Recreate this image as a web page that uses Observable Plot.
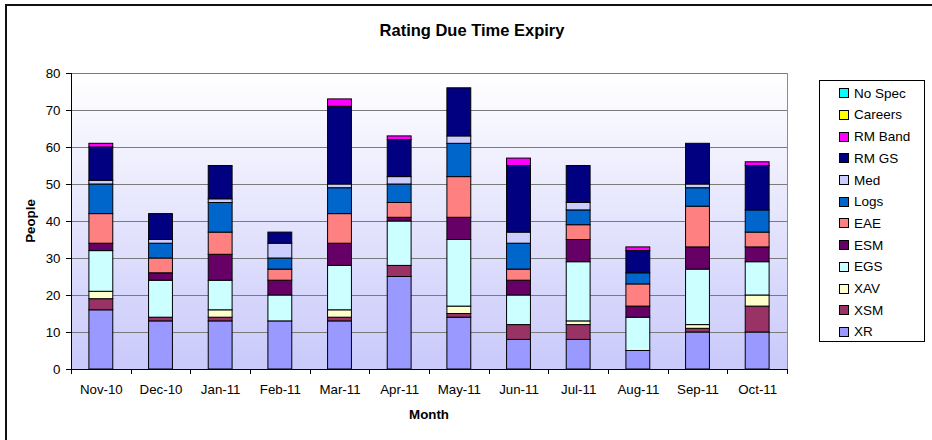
<!DOCTYPE html>
<html><head><meta charset="utf-8">
<script src="https://cdn.jsdelivr.net/npm/d3@7"></script>
<script src="https://cdn.jsdelivr.net/npm/@observablehq/plot@0.6"></script>
<style>
html,body{margin:0;padding:0;background:#fff;}
#wrap{position:relative;width:932px;height:440px;overflow:hidden;font-family:"Liberation Sans",Arial,sans-serif;color:#000;}
#frame{position:absolute;left:5px;top:4px;width:1000px;height:1000px;border:2px solid #111;box-sizing:border-box;pointer-events:none;}
#title{position:absolute;left:472px;top:22px;transform:translateX(-50%);font-weight:bold;font-size:16.5px;line-height:16.5px;white-space:nowrap;}
#ylab{position:absolute;left:31px;top:221px;transform:translate(-50%,-50%) rotate(-90deg);font-weight:bold;font-size:13.3px;line-height:13.3px;white-space:nowrap;}
#xlab{position:absolute;left:429px;top:415px;transform:translate(-50%,-50%);font-weight:bold;font-size:13.3px;line-height:13.3px;white-space:nowrap;}
#legend{position:absolute;left:819px;top:80px;width:106px;height:262px;border:1px solid #000;box-sizing:border-box;background:#fff;}
.item{position:absolute;left:0;height:21.7px;display:flex;align-items:center;font-size:13.5px;white-space:nowrap;}
.sw{width:8px;height:8px;border:1px solid #000;margin-left:19px;margin-right:5px;box-sizing:content-box;}
</style></head>
<body><div id="wrap"></div>
<script>
const title = "Rating Due Time Expiry";
const xLabel = "Month";
const yLabel = "People";
const months = ["Nov-10","Dec-10","Jan-11","Feb-11","Mar-11","Apr-11","May-11","Jun-11","Jul-11","Aug-11","Sep-11","Oct-11"];
const yTicks = [0,10,20,30,40,50,60,70,80];
// stacking order bottom -> top
const seriesNames = ["XR","XSM","XAV","EGS","ESM","EAE","Logs","Med","RM GS","RM Band","Careers","No Spec"];
const seriesColors = ["#9999FF","#993366","#FFFFCC","#CCFFFF","#660066","#FF8080","#0066CC","#CCCCFF","#000080","#FF00FF","#FFFF00","#00FFFF"];
const XR      = [16,13,13,13,13,25,14, 8, 8, 5,10,10];
const XSM     = [ 3, 1, 1, 0, 1, 3, 1, 4, 4, 0, 1, 7];
const XAV     = [ 2, 0, 2, 0, 2, 0, 2, 0, 1, 0, 1, 3];
const EGS     = [11,10, 8, 7,12,12,18, 8,16, 9,15, 9];
const ESM     = [ 2, 2, 7, 4, 6, 1, 6, 4, 6, 3, 6, 4];
const EAE     = [ 8, 4, 6, 3, 8, 4,11, 3, 4, 6,11, 4];
const Logs    = [ 8, 4, 8, 3, 7, 5, 9, 7, 4, 3, 5, 6];
const Med     = [ 1, 1, 1, 4, 1, 2, 2, 3, 2, 0, 1, 0];
const RMGS    = [ 9, 7, 9, 3,21,10,13,18,10, 6,11,12];
const RMBand  = [ 1, 0, 0, 0, 2, 1, 0, 2, 0, 1, 0, 1];
const Careers = [ 0, 0, 0, 0, 0, 0, 0, 0, 0, 0, 0, 0];
const NoSpec  = [ 0, 0, 0, 0, 0, 0, 0, 0, 0, 0, 0, 0];
const seriesValues = [XR,XSM,XAV,EGS,ESM,EAE,Logs,Med,RMGS,RMBand,Careers,NoSpec];

const rows = [];
seriesNames.forEach((s, si) => {
  months.forEach((m, mi) => {
    const v = seriesValues[si][mi];
    if (v > 0) rows.push({month: m, series: s, value: v});
  });
});

const bgDefs = () => {
  const defs = d3.create("svg:defs");
  const lg = defs.append("linearGradient").attr("id", "plotbg")
    .attr("x1", 0).attr("y1", 0).attr("x2", 0).attr("y2", 1);
  lg.append("stop").attr("offset", "0%").attr("stop-color", "#ffffff");
  lg.append("stop").attr("offset", "100%").attr("stop-color", "#c9c9fb");
  return defs.node();
};

const axisExtras = (index, scales, values, dimensions) => {
  const x = scales.x;
  const {marginLeft, marginTop, marginBottom, height} = dimensions;
  const y0 = height - marginBottom;
  const g = d3.create("svg:g").attr("stroke", "#000").attr("stroke-width", 1);
  g.append("line").attr("x1", marginLeft + 0.5).attr("x2", marginLeft + 0.5)
    .attr("y1", marginTop).attr("y2", y0 + 0.5);
  const bw = x.bandwidth();
  const step = x.step ? x.step() : bw / 0.4;
  const gap = (step - bw) / 2;
  const bounds = [x(months[0]) - gap].concat(months.map(m => x(m) + bw + gap));
  bounds.forEach(b => {
    const bx = Math.round(b) + 0.5;
    g.append("line").attr("x1", bx).attr("x2", bx).attr("y1", y0).attr("y2", y0 + 5);
  });
  return g.node();
};

const chart = Plot.plot({
  width: 932,
  height: 440,
  marginLeft: 71,
  marginRight: 145,
  marginTop: 73,
  marginBottom: 71,
  style: {fontFamily: "'Liberation Sans', Arial, sans-serif", fontSize: "13.3px", color: "#000", background: "transparent"},
  x: {domain: months, paddingInner: 0.6, paddingOuter: 0.3, round: false, tickSize: 0, tickPadding: 15.5, label: null},
  y: {domain: [0, 80], ticks: yTicks, tickSize: 5, tickPadding: 6, label: null},
  color: {domain: seriesNames, range: seriesColors},
  marks: [
    bgDefs,
    Plot.frame({fill: "url(#plotbg)", stroke: "#8c8c8c"}),
    Plot.ruleY(yTicks.filter(t => t > 0), {stroke: "#7a7a7a"}),
    Plot.barY(rows, {x: "month", y: "value", fill: "series", stroke: "#000", strokeWidth: 1, order: seriesNames}),
    Plot.ruleY([0], {stroke: "#000"}),
    axisExtras
  ]
});

const wrap = document.getElementById("wrap");
wrap.appendChild(chart);

const mk = (id, text) => { const d = document.createElement("div"); d.id = id; if (text) d.textContent = text; wrap.appendChild(d); return d; };
mk("frame");
mk("title", title);
mk("ylab", yLabel);
mk("xlab", xLabel);
const legend = mk("legend");
const legendOrder = seriesNames.slice().reverse();
legendOrder.forEach((s, i) => {
  const item = document.createElement("div");
  item.className = "item";
  item.style.top = (1.45 + i * 21.7) + "px";
  const sw = document.createElement("div");
  sw.className = "sw";
  sw.style.background = seriesColors[seriesNames.indexOf(s)];
  const t = document.createElement("span");
  t.textContent = s;
  item.appendChild(sw);
  item.appendChild(t);
  legend.appendChild(item);
});
</script>
</body></html>
